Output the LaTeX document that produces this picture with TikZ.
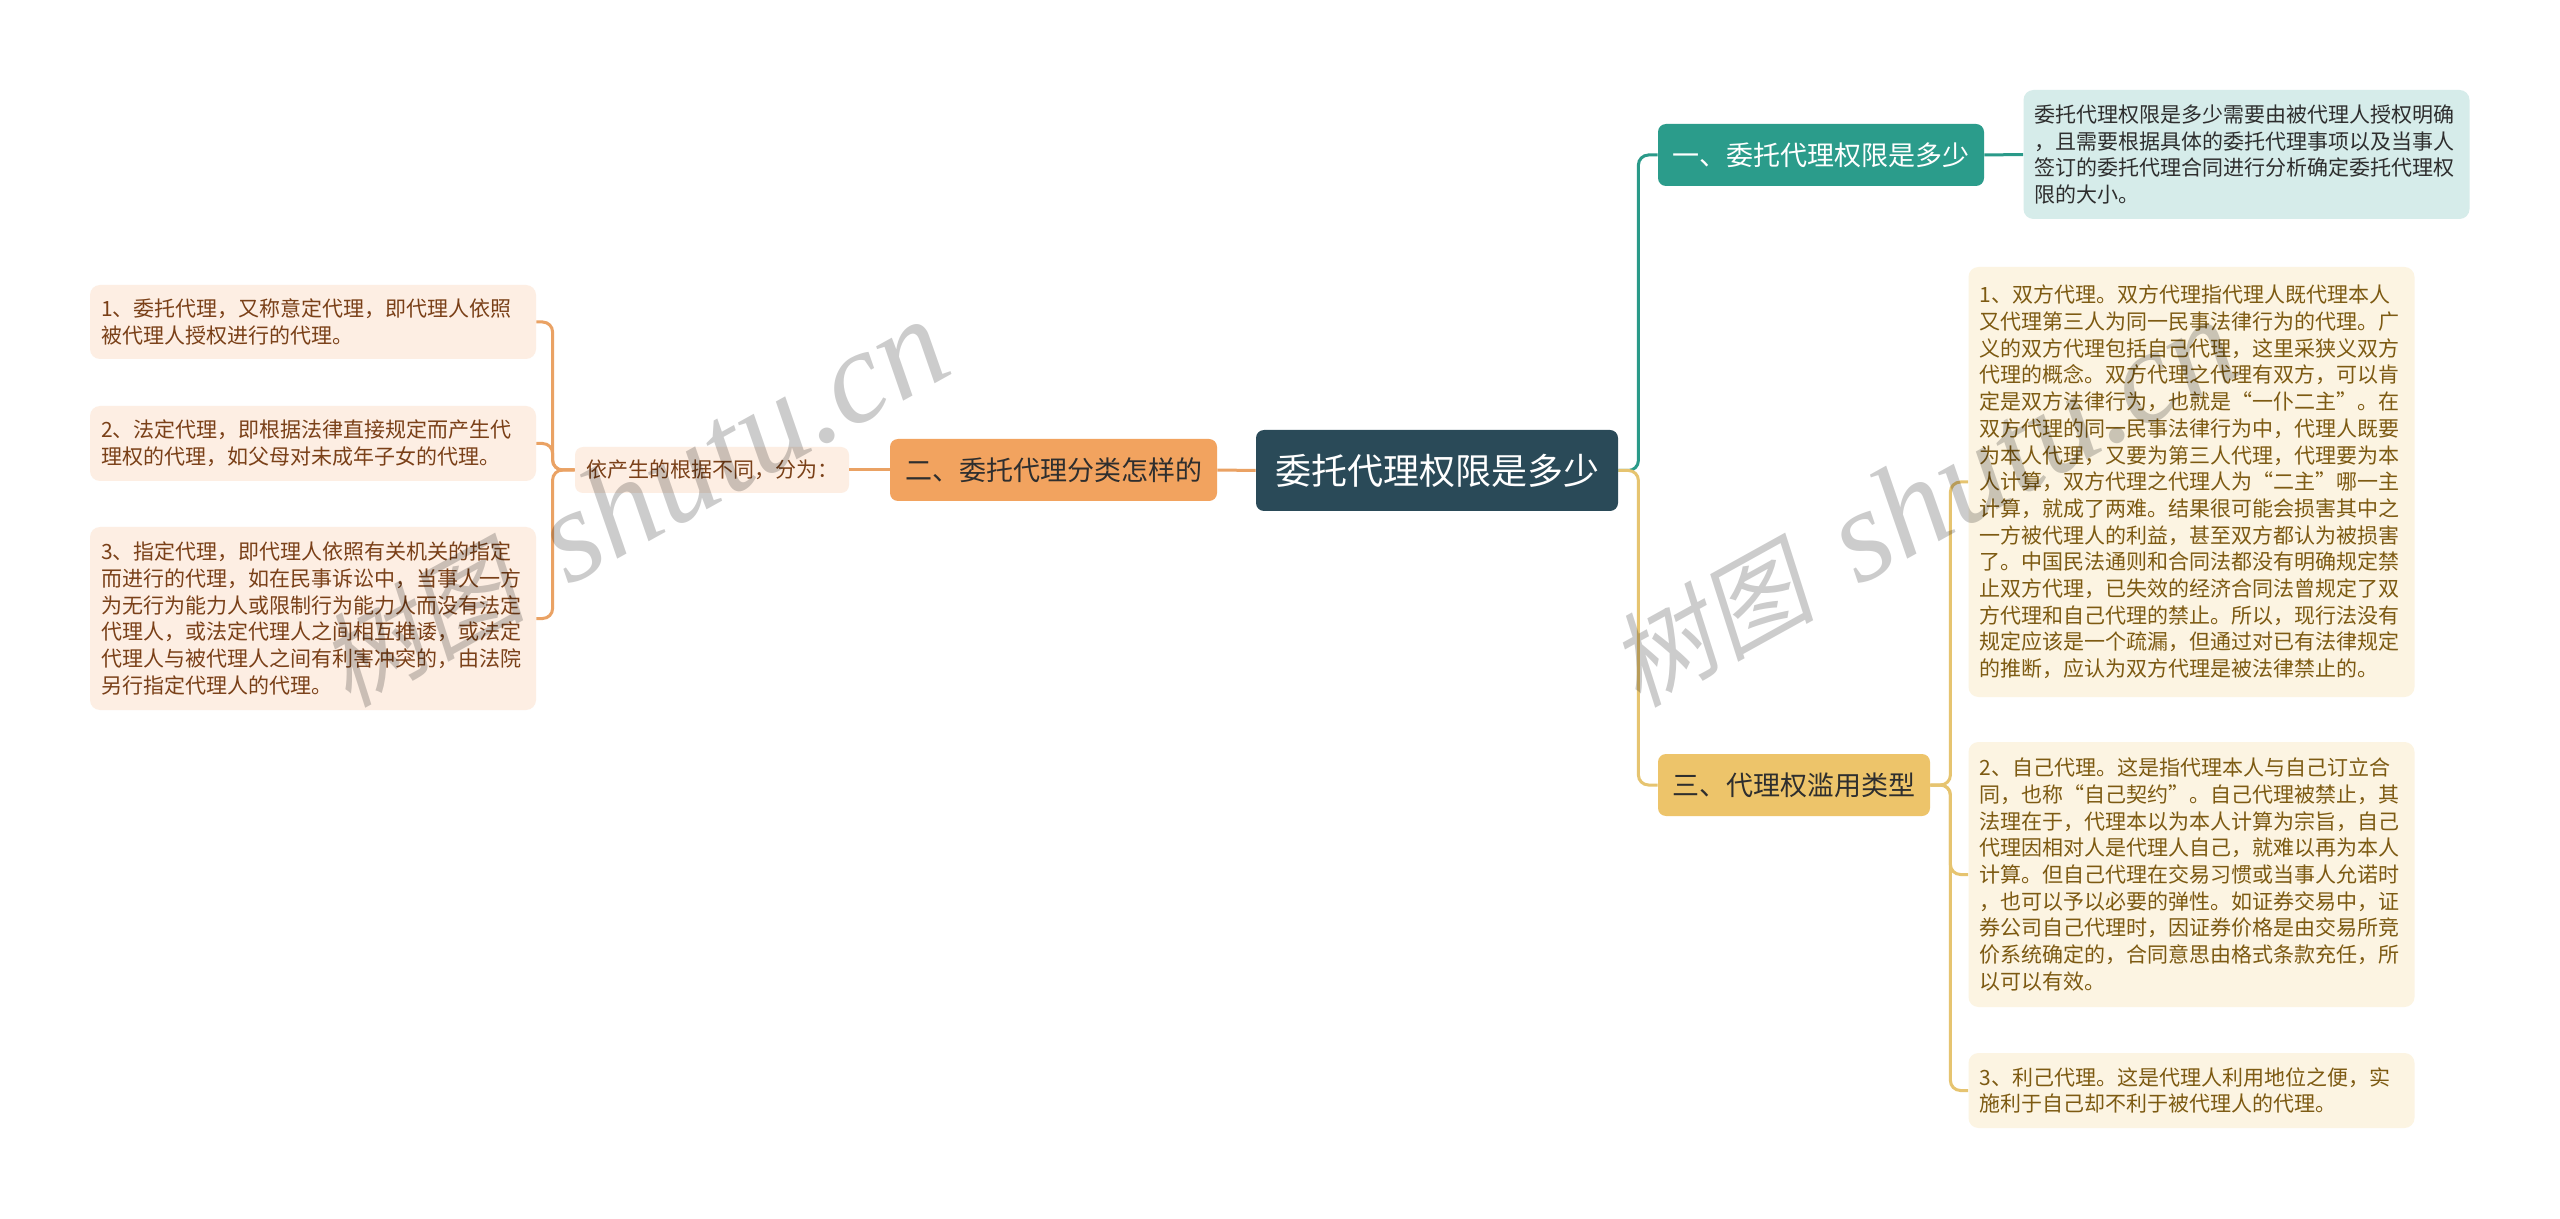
\documentclass[tikz,border=0pt]{standalone}
\usepackage{fontspec}
\setmainfont{Noto Sans CJK SC}
\newfontfamily\wmlatin{Liberation Serif}
\newfontfamily\wmcjk[FakeSlant=0.2]{Noto Sans CJK SC}
\definecolor{rootfill}{HTML}{2A4A58}
\definecolor{orangefill}{HTML}{F2A35F}
\definecolor{orangeline}{HTML}{EAA264}
\definecolor{peach}{HTML}{FDEEE3}
\definecolor{brownL}{HTML}{7A4018}
\definecolor{tealfill}{HTML}{2B9C8B}
\definecolor{tealline}{HTML}{2A9A89}
\definecolor{tealpale}{HTML}{D6ECEA}
\definecolor{yellowfill}{HTML}{EDC46A}
\definecolor{yellowline}{HTML}{E6C470}
\definecolor{cream}{HTML}{FCF4E2}
\definecolor{olive}{HTML}{7D5A12}
\definecolor{darktext}{HTML}{2E2E2E}
\tikzset{
  smallfont/.style={font=\fontsize{10.5pt}{13.35pt}\selectfont},
  leafbox/.style={smallfont, rounded corners=5pt, text width=212pt, inner xsep=5.5pt, inner ysep=0pt, align=left},
  leftleaf/.style={leafbox, fill=peach, text=brownL},
  rightleaf/.style={leafbox, fill=cream, text=olive},
  descbox/.style={leafbox, fill=tealpale, text=darktext},
  branchbox/.style={rounded corners=4pt, inner sep=0pt, minimum height=31pt, font=\fontsize{13.5pt}{16pt}\selectfont},
  rootbox/.style={rounded corners=4pt, inner sep=0pt, fill=rootfill, text=white, minimum width=181pt, minimum height=40.5pt, font=\fontsize{18pt}{21pt}\selectfont},
  midbox/.style={smallfont, rounded corners=4pt, inner sep=0pt, fill=peach, text=brownL, minimum width=137pt, minimum height=23pt},
  oline/.style={draw=orangeline, line width=1.5pt, rounded corners=5pt},
  tline/.style={draw=tealline, line width=1.5pt, rounded corners=5pt},
  yline/.style={draw=yellowline, line width=1.5pt, rounded corners=5pt},
  wmark/.style={text=black, opacity=0.2, inner sep=0pt, rotate=29, anchor=base west}
}
\newcommand{\wmtext}{{\wmcjk\fontsize{51.5pt}{52pt}\selectfont 树图}\hspace{23pt}{\wmlatin\itshape\fontsize{66pt}{66pt}\selectfont shutu.cn}}
\begin{document}
\begin{tikzpicture}[x=0.5pt,y=-0.5pt]
\useasboundingbox (0,0) rectangle (2560,1219);
\fill[white] (0,0) rectangle (2560,1219);

% root
\node[rootbox] (root) at (1437,470.5) {委托代理权限是多少};

% left branch
\node[branchbox, fill=orangefill, text=darktext, minimum width=163.5pt] (b2) at (1053.5,470) {二、委托代理分类怎样的};
\node[midbox] (mid) at (712,470) {依产生的根据不同，分为：};
\node[leftleaf, minimum height=37pt] (l1) at (313,322) {1、委托代理，又称意定代理，即代理人依照\\被代理人授权进行的代理。};
\node[leftleaf, minimum height=37.5pt] (l2) at (313,443.5) {2、法定代理，即根据法律直接规定而产生代\\理权的代理，如父母对未成年子女的代理。};
\node[leftleaf, minimum height=91.5pt] (l3) at (313,618.5) {3、指定代理，即代理人依照有关机关的指定\\而进行的代理，如在民事诉讼中，当事人一方\\为无行为能力人或限制行为能力人而没有法定\\代理人，或法定代理人之间相互推诿，或法定\\代理人与被代理人之间有利害冲突的，由法院\\另行指定代理人的代理。};

% right branches
\node[branchbox, fill=tealfill, text=white, minimum width=163pt] (b1) at (1821,155) {一、委托代理权限是多少};
\node[descbox, minimum height=64.5pt] (desc) at (2246.5,154.5) {委托代理权限是多少需要由被代理人授权明确\\，且需要根据具体的委托代理事项以及当事人\\签订的委托代理合同进行分析确定委托代理权\\限的大小。};
\node[branchbox, fill=yellowfill, text=darktext, minimum width=136pt] (b3) at (1794,785) {三、代理权滥用类型};
\node[rightleaf, minimum height=215pt] (r1) at (2191.5,482) {1、双方代理。双方代理指代理人既代理本人\\又代理第三人为同一民事法律行为的代理。广\\义的双方代理包括自己代理，这里采狭义双方\\代理的概念。双方代理之代理有双方，可以肯\\定是双方法律行为，也就是“一仆二主”。在\\双方代理的同一民事法律行为中，代理人既要\\为本人代理，又要为第三人代理，代理要为本\\人计算，双方代理之代理人为“二主”哪一主\\计算，就成了两难。结果很可能会损害其中之\\一方被代理人的利益，甚至双方都认为被损害\\了。中国民法通则和合同法都没有明确规定禁\\止双方代理，已失效的经济合同法曾规定了双\\方代理和自己代理的禁止。所以，现行法没有\\规定应该是一个疏漏，但通过对已有法律规定\\的推断，应认为双方代理是被法律禁止的。};
\node[rightleaf, minimum height=132.5pt] (r2) at (2191.5,874.5) {2、自己代理。这是指代理本人与自己订立合\\同，也称“自己契约”。自己代理被禁止，其\\法理在于，代理本以为本人计算为宗旨，自己\\代理因相对人是代理人自己，就难以再为本人\\计算。但自己代理在交易习惯或当事人允诺时\\，也可以予以必要的弹性。如证券交易中，证\\券公司自己代理时，因证券价格是由交易所竞\\价系统确定的，合同意思由格式条款充任，所\\以可以有效。};
\node[rightleaf, minimum height=37.5pt] (r3) at (2191.5,1090.5) {3、利己代理。这是代理人利用地位之便，实\\施利于自己却不利于被代理人的代理。};

% connectors left
\draw[oline] (root.west) -- (b2.east);
\draw[oline] (b2.west) -- (mid.east);
\draw[oline] (mid.west) -- ++(-22,0) |- (l1.east);
\draw[oline] (mid.west) -- ++(-22,0) |- (l2.east);
\draw[oline] (mid.west) -- ++(-22,0) |- (l3.east);

% connectors right
\draw[tline] (root.east) -- ++(20,0) |- (b1.west);
\draw[yline] (root.east) -- ++(20,0) |- (b3.west);
\draw[tline] (b1.east) -- (desc.west);
\draw[yline] (b3.east) -- ++(20,0) |- (r1.west);
\draw[yline] (b3.east) -- ++(20,0) |- (r2.west);
\draw[yline] (b3.east) -- ++(20,0) |- (r3.west);

% watermarks
\node[wmark] (wm1) at (348,709) {\wmtext};
\node[wmark] (wm2) at (1638,709) {\wmtext};
\end{tikzpicture}
\end{document}
